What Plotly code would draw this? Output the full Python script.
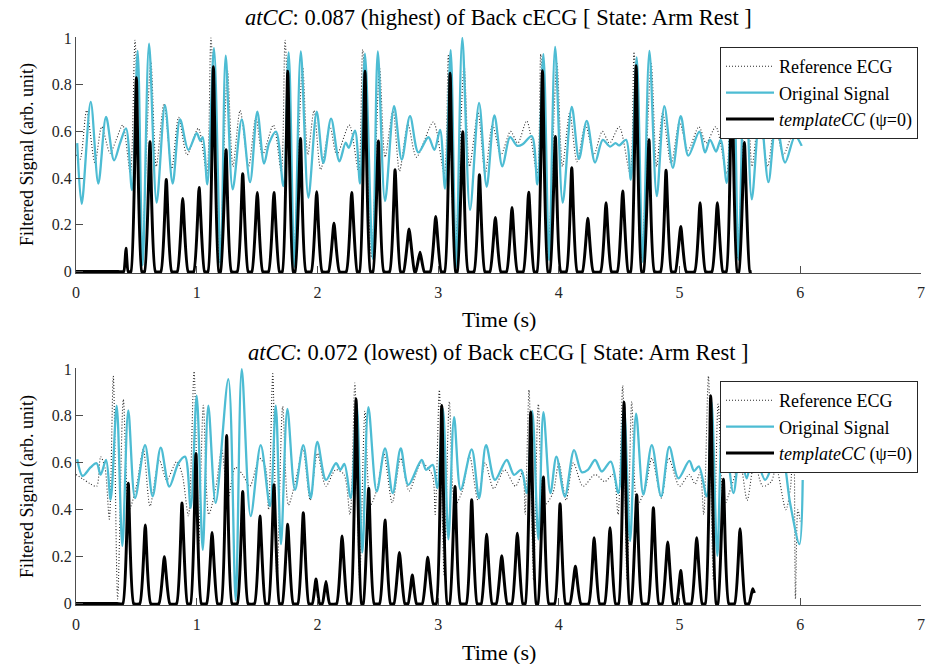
import plotly.graph_objects as go
from plotly.subplots import make_subplots

# ---------------- DATA ----------------
# Top panel: time (s) and value (arb. unit) keypoints
top_ref_t = [0.0, 0.033, 0.088, 0.157, 0.213, 0.282, 0.33, 0.387, 0.45, 0.489, 0.542, 0.62, 0.665,
             0.729, 0.793, 0.85, 0.92, 1.013, 1.083, 1.118, 1.189, 1.255, 1.30,
             1.36, 1.43, 1.49, 1.545, 1.635, 1.70, 1.732, 1.80, 1.877, 1.92,
             1.972, 2.027, 2.104, 2.16, 2.264, 2.34, 2.375, 2.448, 2.515, 2.56,
             2.626, 2.68, 2.75, 2.82, 2.96, 3.05, 3.085, 3.138, 3.215, 3.26,
             3.33, 3.39, 3.45, 3.52, 3.60, 3.66, 3.734, 3.82, 3.85, 3.909, 3.984, 4.03,
             4.09, 4.15, 4.22, 4.29, 4.36, 4.42, 4.50, 4.59, 4.623, 4.685, 4.765, 4.81,
             4.86, 4.93, 5.00, 5.07, 5.16, 5.22, 5.30, 5.39, 5.42, 5.477, 5.557, 5.60,
             5.66, 5.73, 5.79, 5.86, 5.95, 6.012]
top_ref_v = [0.50, 0.48, 0.69, 0.465, 0.62, 0.507, 0.56, 0.627, 0.42, 0.99, 0.04, 0.90, 0.45,
             0.719, 0.44, 0.66, 0.50, 0.613, 0.42, 1.0, 0.04, 0.86, 0.45,
             0.69, 0.45, 0.66, 0.50, 0.627, 0.43, 0.99, 0.05, 0.88, 0.50,
             0.69, 0.436, 0.62, 0.50, 0.627, 0.43, 0.95, 0.06, 0.87, 0.49,
             0.69, 0.43, 0.63, 0.49, 0.64, 0.42, 0.93, 0.05, 0.88, 0.45,
             0.68, 0.42, 0.63, 0.50, 0.60, 0.55, 0.645, 0.42, 0.93, 0.06, 0.89, 0.45,
             0.68, 0.47, 0.63, 0.50, 0.60, 0.55, 0.62, 0.42, 0.94, 0.06, 0.89, 0.45,
             0.68, 0.46, 0.64, 0.52, 0.62, 0.55, 0.62, 0.42, 0.95, 0.06, 0.88, 0.45,
             0.67, 0.45, 0.63, 0.50, 0.60, 0.57]

top_orig_t = [0.01, 0.047, 0.122, 0.185, 0.249, 0.315, 0.365, 0.414, 0.464, 0.511, 0.552, 0.605,
              0.668, 0.737, 0.801, 0.862, 0.931, 1.0, 1.03, 1.05, 1.088, 1.143, 1.199, 1.24,
              1.298, 1.373, 1.442, 1.502, 1.558, 1.60, 1.657, 1.718, 1.762, 1.809, 1.862,
              1.925, 1.994, 2.049, 2.113, 2.182, 2.234, 2.26, 2.311, 2.353, 2.394, 2.458, 2.50,
              2.56, 2.635, 2.698, 2.767, 2.836, 2.919, 2.969, 3.016, 3.057, 3.104, 3.148, 3.20,
              3.264, 3.339, 3.402, 3.466, 3.532, 3.596, 3.656, 3.70, 3.775, 3.822, 3.872, 3.919, 3.969,
              4.032, 4.107, 4.167, 4.231, 4.30, 4.364, 4.424, 4.47, 4.50, 4.557, 4.596, 4.645, 4.695, 4.75,
              4.811, 4.874, 4.944, 5.01, 5.073, 5.164, 5.211, 5.253, 5.302, 5.341, 5.391, 5.446, 5.487, 5.542,
              5.598, 5.667, 5.736, 5.80, 5.874, 5.957, 6.012]
top_orig_v = [0.55, 0.29, 0.726, 0.377, 0.662, 0.476, 0.55, 0.613, 0.349, 0.945, 0.027, 0.976,
              0.295, 0.712, 0.377, 0.651, 0.521, 0.592, 0.56, 0.575, 0.373, 0.956, 0.02, 0.924,
              0.352, 0.651, 0.383, 0.684, 0.462, 0.55, 0.599, 0.366, 0.938, 0.02, 0.942,
              0.316, 0.684, 0.465, 0.655, 0.472, 0.552, 0.53, 0.603, 0.377, 0.933, 0.055, 0.942,
              0.302, 0.708, 0.479, 0.665, 0.51, 0.575, 0.521, 0.606, 0.355, 0.948, 0.016, 1.0,
              0.264, 0.722, 0.363, 0.669, 0.45, 0.575, 0.538, 0.545, 0.58, 0.373, 0.931, 0.048, 0.962,
              0.295, 0.705, 0.482, 0.645, 0.467, 0.564, 0.535, 0.55, 0.54, 0.564, 0.394, 0.917, 0.041, 0.945,
              0.323, 0.708, 0.444, 0.665, 0.496, 0.599, 0.51, 0.564, 0.514, 0.564, 0.38, 0.93, 0.05, 0.95,
              0.309, 0.693, 0.383, 0.648, 0.467, 0.58, 0.538]

top_tmpl_t = [0.0, 0.05, 0.35, 0.395, 0.414, 0.432, 0.455, 0.50, 0.545, 0.568, 0.613, 0.658, 0.703, 0.748, 0.793,
              0.839, 0.884, 0.929, 0.975, 1.02, 1.065, 1.093, 1.138, 1.183, 1.198, 1.243, 1.288,
              1.336, 1.381, 1.426, 1.457, 1.502, 1.547, 1.595, 1.64, 1.685, 1.709, 1.754, 1.799,
              1.815, 1.86, 1.905, 1.949, 1.994, 2.039, 2.092, 2.137, 2.182, 2.239, 2.284, 2.329,
              2.349, 2.394, 2.439, 2.46, 2.505, 2.55, 2.598, 2.643, 2.688, 2.714, 2.759, 2.804,
              2.815, 2.85, 2.885, 2.935, 2.98, 3.025, 3.054, 3.099, 3.144, 3.159, 3.204, 3.249,
              3.297, 3.342, 3.387, 3.429, 3.474, 3.519, 3.567, 3.612, 3.657, 3.705, 3.75, 3.795,
              3.819, 3.864, 3.909, 3.926, 3.971, 4.016, 4.062, 4.107, 4.152, 4.195, 4.24, 4.285,
              4.346, 4.391, 4.436, 4.484, 4.529, 4.574, 4.595, 4.64, 4.685, 4.702, 4.747, 4.792,
              4.843, 4.888, 4.933, 4.965, 5.01, 5.055, 5.125, 5.17, 5.215, 5.268, 5.313, 5.358,
              5.387, 5.432, 5.477, 5.492, 5.537, 5.582, 5.597]
top_tmpl_v = [0, 0, 0, 0, 0.10, 0, 0, 0.83, 0, 0, 0.556, 0, 0, 0.394, 0,
              0, 0.313, 0, 0, 0.36, 0, 0, 0.877, 0, 0, 0.521, 0,
              0, 0.419, 0, 0, 0.338, 0, 0, 0.338, 0, 0, 0.857, 0,
              0, 0.57, 0, 0, 0.342, 0, 0, 0.207, 0, 0, 0.338, 0,
              0, 0.857, 0, 0, 0.559, 0, 0, 0.436, 0, 0, 0.182, 0,
              0, 0.083, 0, 0, 0.236, 0, 0, 0.849, 0, 0, 0.599, 0,
              0, 0.415, 0, 0, 0.232, 0, 0, 0.274, 0, 0, 0.34, 0,
              0, 0.86, 0, 0, 0.578, 0, 0, 0.444, 0, 0, 0.228, 0,
              0, 0.295, 0, 0, 0.345, 0, 0, 0.881, 0, 0, 0.564, 0,
              0, 0.434, 0, 0, 0.193, 0, 0, 0.295, 0, 0, 0.295, 0,
              0, 0.88, 0, 0, 0.552, 0, 0]

# Bottom panel
bot_ref_t = [0.0, 0.06, 0.12, 0.171, 0.204, 0.24, 0.276, 0.309, 0.345, 0.392, 0.44, 0.50,
             0.558, 0.613, 0.69, 0.751, 0.834, 0.88, 0.931, 0.978, 1.015, 1.055, 1.10, 1.16,
             1.207, 1.26, 1.32, 1.38, 1.44, 1.52, 1.57, 1.595, 1.63, 1.665, 1.712, 1.76,
             1.83, 1.88, 1.94, 2.0, 2.07, 2.15, 2.22, 2.27, 2.31, 2.35, 2.394, 2.44,
             2.50, 2.55, 2.62, 2.69, 2.76, 2.86, 2.95, 2.975, 3.01, 3.05, 3.093, 3.14,
             3.20, 3.26, 3.33, 3.39, 3.46, 3.55, 3.64, 3.70, 3.72, 3.753, 3.79, 3.83, 3.88,
             3.95, 4.0, 4.06, 4.12, 4.20, 4.30, 4.38, 4.45, 4.49, 4.529, 4.565, 4.604, 4.65,
             4.72, 4.77, 4.85, 4.91, 5.0, 5.08, 5.13, 5.17, 5.20, 5.239, 5.28, 5.32, 5.37,
             5.43, 5.50, 5.56, 5.62, 5.69, 5.76, 5.80, 5.88, 5.92, 5.945, 5.96, 5.98, 6.0]
bot_ref_v = [0.55, 0.53, 0.51, 0.50, 0.626, 0.58, 0.36, 0.97, 0.02, 0.87, 0.40, 0.50,
             0.657, 0.415, 0.612, 0.527, 0.605, 0.55, 0.373, 0.99, 0.25, 0.845, 0.38, 0.50,
             0.657, 0.45, 0.58, 0.55, 0.50, 0.62, 0.58, 0.40, 0.98, 0.10, 0.84, 0.42,
             0.55, 0.66, 0.44, 0.64, 0.50, 0.57, 0.55, 0.38, 0.94, 0.10, 0.82, 0.42,
             0.50, 0.64, 0.43, 0.62, 0.48, 0.60, 0.55, 0.38, 0.91, 0.12, 0.86, 0.42,
             0.48, 0.63, 0.44, 0.60, 0.49, 0.57, 0.50, 0.56, 0.38, 0.91, 0.10, 0.85, 0.42,
             0.47, 0.60, 0.44, 0.60, 0.50, 0.55, 0.52, 0.55, 0.38, 0.93, 0.10, 0.86, 0.42,
             0.50, 0.62, 0.45, 0.62, 0.50, 0.55, 0.51, 0.56, 0.38, 0.97, 0.10, 0.85, 0.42,
             0.50, 0.60, 0.44, 0.60, 0.50, 0.52, 0.58, 0.40, 0.50, 0.85, 0.02, 0.40, 0.35]

bot_orig_t = [0.01, 0.055, 0.12, 0.171, 0.204, 0.249, 0.287, 0.337, 0.384, 0.433, 0.489, 0.572,
              0.635, 0.702, 0.773, 0.848, 0.903, 0.95, 1.0, 1.05, 1.096, 1.157, 1.262, 1.323,
              1.373, 1.447, 1.53, 1.607, 1.655, 1.698, 1.751, 1.814, 1.883, 1.944, 1.999, 2.071,
              2.154, 2.19, 2.223, 2.276, 2.325, 2.372, 2.422, 2.491, 2.56, 2.624, 2.69, 2.753,
              2.864, 2.90, 2.955, 2.993, 3.04, 3.085, 3.132, 3.187, 3.278, 3.339, 3.397, 3.471,
              3.568, 3.629, 3.687, 3.734, 3.78, 3.83, 3.872, 3.93, 3.98, 4.05, 4.126, 4.19,
              4.24, 4.30, 4.356, 4.43, 4.493, 4.54, 4.59, 4.64, 4.70, 4.77, 4.847, 4.915,
              4.99, 5.081, 5.12, 5.16, 5.225, 5.265, 5.313, 5.36, 5.446, 5.501, 5.556, 5.612,
              5.709, 5.791, 5.83, 5.86, 5.915, 5.993, 6.02]
bot_orig_v = [0.615, 0.544, 0.58, 0.598, 0.55, 0.612, 0.443, 0.844, 0.246, 0.823, 0.45, 0.675,
              0.457, 0.665, 0.499, 0.598, 0.626, 0.408, 0.886, 0.229, 0.844, 0.429, 0.957, 0.014,
              0.999, 0.373, 0.675, 0.415, 0.844, 0.253, 0.83, 0.485, 0.675, 0.45, 0.689, 0.527,
              0.598, 0.57, 0.595, 0.45, 0.85, 0.218, 0.837, 0.478, 0.661, 0.471, 0.661, 0.506,
              0.612, 0.57, 0.591, 0.492, 0.83, 0.274, 0.795, 0.485, 0.657, 0.45, 0.675, 0.527,
              0.612, 0.549, 0.57, 0.471, 0.82, 0.274, 0.816, 0.471, 0.626, 0.457, 0.654, 0.56,
              0.57, 0.612, 0.563, 0.605, 0.471, 0.83, 0.267, 0.809, 0.464, 0.675, 0.457, 0.668,
              0.534, 0.608, 0.565, 0.585, 0.457, 0.86, 0.204, 0.80, 0.471, 0.654, 0.534, 0.654,
              0.527, 0.612, 0.58, 0.605, 0.43, 0.253, 0.527]

bot_tmpl_t = [0.0, 0.05, 0.34, 0.388, 0.433, 0.478, 0.529, 0.574, 0.619, 0.687, 0.732, 0.777, 0.833, 0.878, 0.923,
              0.949, 0.994, 1.039, 1.082, 1.127, 1.172, 1.203, 1.248, 1.293, 1.336, 1.381, 1.426,
              1.479, 1.524, 1.569, 1.595, 1.64, 1.685, 1.709, 1.754, 1.799, 1.838, 1.883, 1.928,
              1.958, 1.988, 2.018, 2.041, 2.071, 2.101, 2.159, 2.204, 2.249, 2.275, 2.32, 2.365,
              2.38, 2.425, 2.47, 2.515, 2.56, 2.605, 2.634, 2.679, 2.724, 2.751, 2.786, 2.821,
              2.869, 2.914, 2.959, 2.985, 3.03, 3.075, 3.095, 3.14, 3.185, 3.233, 3.278, 3.323,
              3.357, 3.402, 3.447, 3.482, 3.527, 3.572, 3.611, 3.656, 3.701, 3.722, 3.767, 3.812,
              3.827, 3.872, 3.917, 3.965, 4.01, 4.055, 4.092, 4.137, 4.182, 4.247, 4.292, 4.337,
              4.379, 4.424, 4.469, 4.495, 4.54, 4.585, 4.60, 4.645, 4.69, 4.738, 4.783, 4.828,
              4.857, 4.902, 4.947, 4.975, 5.01, 5.045, 5.097, 5.142, 5.187, 5.213, 5.258, 5.303,
              5.318, 5.363, 5.408, 5.456, 5.501, 5.546, 5.575, 5.606, 5.62]
bot_tmpl_v = [0, 0, 0, 0, 0.513, 0, 0, 0.335, 0, 0, 0.2, 0, 0, 0.429, 0,
              0, 0.64, 0, 0, 0.303, 0, 0, 0.716, 0, 0, 0.478, 0,
              0, 0.373, 0, 0, 0.506, 0, 0, 0.338, 0, 0, 0.387, 0,
              0, 0.105, 0, 0, 0.094, 0, 0, 0.288, 0, 0, 0.872, 0,
              0, 0.492, 0, 0, 0.356, 0, 0, 0.218, 0, 0, 0.122, 0,
              0, 0.197, 0, 0, 0.844, 0, 0, 0.499, 0, 0, 0.443, 0,
              0, 0.295, 0, 0, 0.204, 0, 0, 0.3, 0, 0, 0.816, 0,
              0, 0.539, 0, 0, 0.426, 0, 0, 0.159, 0, 0, 0.281, 0,
              0, 0.323, 0, 0, 0.858, 0, 0, 0.464, 0, 0, 0.408, 0,
              0, 0.263, 0, 0, 0.141, 0, 0, 0.281, 0, 0, 0.886, 0,
              0, 0.53, 0, 0, 0.319, 0, 0, 0.063, 0.045]

titles = ["<i>atCC</i>: 0.087 (highest) of Back cECG [ State: Arm Rest ]",
          "<i>atCC</i>: 0.072 (lowest) of Back cECG [ State: Arm Rest ]"]
series_names = ["Reference ECG", "Original Signal", "<i>templateCC</i> (\u03c8=0)"]
x_ticks = [0, 1, 2, 3, 4, 5, 6, 7]
y_ticks = [0, 0.2, 0.4, 0.6, 0.8, 1]
y_tick_text = ["0", "0.2", "0.4", "0.6", "0.8", "1"]

# ---------------- FIGURE ----------------
FONT = "Liberation Serif, Times New Roman, serif"
CYAN = "#4DBCD3"
TXT = "#262626"
AX = "#4d4d4d"

W, H = 926, 664
ML, MR, MT, MB = 76, 5, 37, 59
PH = H - MT - MB


def py2paper(py):
    return (H - MB - py) / PH


def px2paper(px):
    return (px - ML) / (W - ML - MR)


fig = make_subplots(rows=2, cols=1, vertical_spacing=0.0)
fig.update_layout(
    yaxis=dict(domain=[py2paper(273), 1.0]),
    yaxis2=dict(domain=[0.0, py2paper(368)]),
)

panels = [
    (top_ref_t, top_ref_v, top_orig_t, top_orig_v, top_tmpl_t, top_tmpl_v, "legend"),
    (bot_ref_t, bot_ref_v, bot_orig_t, bot_orig_v, bot_tmpl_t, bot_tmpl_v, "legend2"),
]
for i, (rt, rv, ot, ov, tt, tv, lg) in enumerate(panels, start=1):
    fig.add_trace(go.Scatter(x=rt, y=rv, mode="lines", name=series_names[0], legend=lg,
                             line=dict(color="#2a2a2a", width=1.1, dash="1px,2px", shape="spline",
                                       smoothing=0.8)), row=i, col=1)
    fig.add_trace(go.Scatter(x=ot, y=ov, mode="lines", name=series_names[1], legend=lg,
                             line=dict(color=CYAN, width=2.3, shape="spline", smoothing=0.9)),
                  row=i, col=1)
    fig.add_trace(go.Scatter(x=tt, y=tv, mode="lines", name=series_names[2], legend=lg,
                             line=dict(color="black", width=3, shape="spline", smoothing=0.45)),
                  row=i, col=1)

axis_common = dict(showline=True, linecolor=AX, linewidth=1, mirror=False, ticks="inside",
                   ticklen=7, tickcolor=AX, tickwidth=1, showgrid=False, zeroline=False,
                   automargin=False, tickfont=dict(family=FONT, size=16, color=TXT))
for i in (1, 2):
    fig.update_xaxes(range=[0, 7], tickvals=x_ticks, ticklabelstandoff=5,
                     **axis_common, row=i, col=1)
    fig.update_yaxes(range=[-0.006, 1.004], tickvals=y_ticks, ticktext=y_tick_text,
                     **axis_common, row=i, col=1)

legend_common = dict(font=dict(family=FONT, size=18, color="black"), bgcolor="white",
                     bordercolor=TXT, borderwidth=1, xanchor="right", yanchor="top",
                     itemwidth=48, tracegroupgap=0)
fig.update_layout(
    width=W, height=H,
    margin=dict(l=ML, r=MR, t=MT, b=MB, autoexpand=False),
    paper_bgcolor="white", plot_bgcolor="white",
    font=dict(family=FONT, color=TXT),
    legend=dict(x=px2paper(918), y=py2paper(47), **legend_common),
    legend2=dict(x=px2paper(918), y=py2paper(381), **legend_common),
)

annots = [
    dict(text=titles[0], x=0.5, y=py2paper(17), size=22.5),
    dict(text=titles[1], x=0.5, y=py2paper(352), size=22.5),
    dict(text="Time (s)", x=0.5, y=py2paper(320), size=22),
    dict(text="Time (s)", x=0.5, y=py2paper(652), size=22),
    dict(text="Filtered Signal (arb. unit)", x=px2paper(28), y=py2paper(155), textangle=-90, size=18),
    dict(text="Filtered Signal (arb. unit)", x=px2paper(28), y=py2paper(487), textangle=-90, size=18),
]
for a in annots:
    size = a.pop("size")
    fig.add_annotation(xref="paper", yref="paper", showarrow=False, xanchor="center",
                       yanchor="middle", font=dict(family=FONT, size=size, color="black"), **a)

fig.write_html("out.html", config={"displayModeBar": False},
               post_script="document.body.style.margin='0';document.body.style.overflow='hidden';")
